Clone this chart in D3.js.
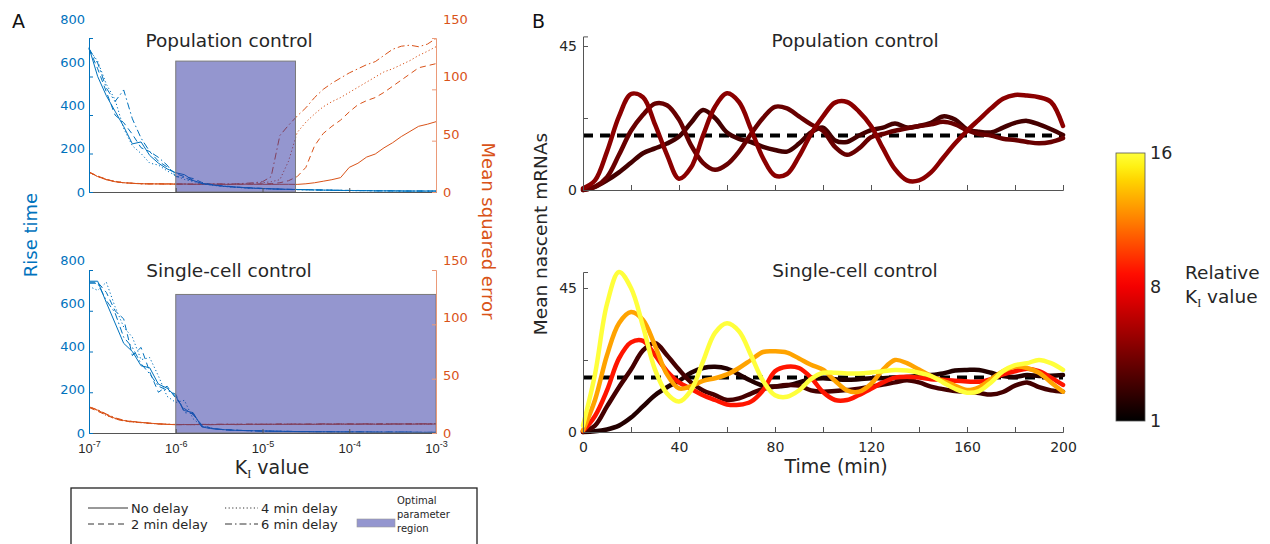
<!DOCTYPE html>
<html>
<head>
<meta charset="utf-8">
<script src="https://cdn.jsdelivr.net/npm/d3@7"></script>
<style>
  body { margin: 0; background: #fff; }
  svg { font-family: "DejaVu Sans", Verdana, sans-serif; }
</style>
</head>
<body>
<svg width="1270" height="544"></svg>
<script>
// ---------- panel A data: log10(K_I) grid, rise time and mean squared error ----------
const logK = [-7.0, -6.9, -6.8, -6.7, -6.6, -6.5, -6.4, -6.3, -6.2, -6.1,
              -6.0, -5.9, -5.8, -5.7, -5.6, -5.5, -5.4, -5.3, -5.2, -5.1,
              -5.0, -4.9, -4.8, -4.7, -4.6, -4.5, -4.4, -4.3, -4.2, -4.1,
              -4.0, -3.9, -3.8, -3.7, -3.6, -3.5, -3.4, -3.3, -3.2, -3.1, -3.0];
const xTicks = [1e-7, 1e-6, 1e-5, 1e-4, 1e-3];
const xTickExp = [-7, -6, -5, -4, -3];
const delayNames = ["No delay", "2 min delay", "4 min delay", "6 min delay"];

// population control
const popRise = [
  [750, 600, 500, 420, 340, 250, 260, 190, 150, 120, 100, 90, 60, 45, 38, 32, 28, 25, 22, 20, 18, 16, 15, 14, 13, 12, 11, 10, 9, 8, 8, 7, 7, 6, 6, 6, 5, 5, 5, 5, 5],
  [745, 640, 520, 400, 360, 300, 230, 210, 160, 130, 95, 80, 70, 50, 40, 34, 30, 26, 23, 21, 19, 17, 15, 14, 13, 12, 11, 10, 10, 9, 8, 8, 7, 7, 6, 6, 6, 5, 5, 5, 5],
  [740, 680, 560, 480, 330, 240, 200, 150, 140, 110, 85, 65, 55, 42, 36, 31, 27, 24, 21, 19, 17, 16, 14, 13, 12, 11, 10, 9, 9, 8, 7, 7, 7, 6, 6, 5, 5, 5, 5, 4, 4],
  [745, 670, 540, 470, 530, 380, 280, 210, 180, 140, 80, 75, 58, 44, 37, 33, 29, 25, 22, 20, 18, 16, 15, 13, 12, 12, 11, 10, 9, 9, 8, 7, 7, 6, 6, 6, 5, 5, 5, 5, 5]
];
const popMse = [
  [19.5, 15, 12, 10, 9, 8.5, 8, 8, 7.8, 8, 7.6, 7.8, 7.5, 7.7, 7.5, 7.6, 7.4, 7.5, 7.6, 7.5, 7.5, 7.4, 7.5, 7.5, 7.4, 8, 9, 10.5, 12, 14, 24, 28, 34, 37, 43, 48, 54, 59, 64, 66, 68.5],
  [19, 15.5, 12.5, 10, 9, 8.6, 8.2, 8, 8, 7.8, 7.8, 7.6, 7.7, 7.5, 7.6, 7.8, 7.5, 7.6, 7.7, 7.8, 8, 8.2, 9, 11, 15, 24, 45, 57, 64, 70, 78, 85, 89, 92, 97, 103, 109, 115, 121, 123, 125],
  [19, 15, 12, 10.5, 9.2, 8.4, 8.1, 7.9, 8, 7.7, 7.7, 7.8, 7.6, 7.6, 7.7, 7.9, 7.6, 7.8, 8, 8.5, 9, 10, 12, 30, 58, 68, 76, 83, 88, 92, 97, 102, 107, 112, 117, 120, 124, 128, 133, 137, 141.5],
  [19.5, 15.5, 12.2, 10.2, 9, 8.4, 8, 7.8, 7.9, 7.6, 7.8, 7.7, 7.5, 7.6, 7.8, 7.6, 7.7, 8, 8.5, 9, 10, 15, 55, 65, 74, 82, 92, 100, 106, 111, 116, 120, 124, 127, 133, 139, 142, 143, 141.5, 144, 149.5]
];
// single-cell control
const scRise = [
  [745, 745, 640, 540, 440, 400, 330, 320, 240, 220, 180, 110, 100, 30, 22, 18, 15, 13, 12, 11, 10, 9, 8, 8, 7, 7, 6, 6, 6, 5, 5, 5, 5, 4, 4, 4, 4, 4, 3, 3, 3],
  [740, 740, 690, 600, 560, 380, 420, 300, 200, 230, 170, 120, 90, 40, 25, 19, 16, 14, 12, 11, 10, 9, 9, 8, 7, 7, 6, 6, 6, 5, 5, 5, 5, 4, 4, 4, 4, 4, 3, 3, 3],
  [720, 700, 740, 620, 520, 470, 360, 370, 280, 180, 150, 160, 70, 35, 24, 18, 15, 13, 12, 11, 10, 9, 8, 8, 7, 7, 6, 6, 5, 5, 5, 5, 4, 4, 4, 4, 4, 3, 3, 3, 3],
  [735, 735, 650, 590, 470, 420, 340, 290, 230, 210, 190, 100, 95, 32, 23, 18, 15, 13, 12, 10, 9, 9, 8, 7, 7, 6, 6, 6, 5, 5, 5, 5, 4, 4, 4, 4, 4, 4, 3, 3, 3]
];
const scMse = [
  [24, 21, 17, 13.5, 11.5, 10.5, 9.8, 9, 8.5, 8, 7.6, 7.8, 7.7, 7.9, 7.6, 7.8, 8, 7.7, 7.9, 8, 7.8, 8.1, 7.9, 8, 8.2, 7.9, 8, 8.3, 8, 8.1, 8.2, 8, 8.3, 8.1, 8, 8.2, 8.4, 8.1, 8.2, 8.3, 8.2],
  [23.5, 20, 16.5, 13, 11, 10.2, 9.5, 8.8, 8.3, 7.9, 7.8, 7.6, 7.9, 7.7, 7.8, 8.1, 7.8, 8, 8.2, 7.9, 8.1, 8, 8.3, 8.1, 7.9, 8.2, 8.3, 8, 8.2, 8.4, 8.1, 8.3, 8.2, 8, 8.4, 8.2, 8.1, 8.3, 8.5, 8.2, 8.4],
  [24.5, 20.5, 16, 13.2, 11.2, 10, 9.6, 8.9, 8.2, 8.1, 7.7, 7.9, 7.6, 7.8, 8, 7.7, 7.9, 8.1, 7.8, 8.2, 8, 7.9, 8.1, 8.3, 8, 8.1, 7.9, 8.2, 8.3, 8.1, 8, 8.3, 8.4, 8.2, 8.1, 8.3, 8.2, 8.4, 8.3, 8.2, 8.5],
  [24, 21.5, 17.5, 14, 11.8, 10.6, 9.7, 9.1, 8.4, 8, 7.9, 7.7, 7.8, 8, 7.8, 7.9, 8.2, 7.9, 8, 8.1, 8.2, 8, 8.2, 8, 8.3, 8.2, 8.1, 8.4, 8.2, 8.3, 8.5, 8.2, 8.4, 8.3, 8.6, 8.4, 8.3, 8.5, 8.4, 8.6, 8.7]
];
const popRegion = [1e-6, 2.4e-5];
const scRegion = [1e-6, 1e-3];
const regionHeight = 680;      // in rise-time units
const riseTicks = [0, 200, 400, 600, 800];
const mseTicks = [0, 50, 100, 150];

// ---------- panel B data: mean nascent mRNAs vs time ----------
const timeMin = [0, 5, 10, 15, 20, 25, 30, 35, 40, 45, 50, 55, 60, 65, 70, 75, 80, 85, 90, 95, 100,
                 105, 110, 115, 120, 125, 130, 135, 140, 145, 150, 155, 160, 165, 170, 175, 180, 185, 190, 195, 200];
const setpoint = 17;
const popK = [3, 4, 5];
const popCurves = [
  [0, 1, 3, 5.5, 8.5, 11.5, 13, 14.5, 16.7, 21, 25, 22.5, 18, 16, 15, 13.5, 12.5, 12, 14.5, 18, 19.5, 15.5, 15, 17, 18.7, 19.5, 20.8, 19.5, 20, 21, 23, 22, 19, 18.2, 18, 19.5, 21, 21.6, 20.5, 19, 17.2],
  [0, 1, 4, 11, 18.5, 23.5, 27, 26.5, 22, 14, 8.5, 6.3, 8, 12, 17.5, 22.5, 26, 25.5, 23, 20.5, 18.5, 13.5, 11, 13, 16.5, 17.5, 18.5, 19.3, 20, 20.5, 21.3, 20.5, 18.7, 17.5, 17, 16, 15.6, 15, 14.6, 15, 16.2],
  [0.5, 3, 12, 23, 30, 29, 20.5, 11, 3.5, 7, 17, 26, 30.2, 27.5, 19, 10, 4.5, 5, 10.5, 17.5, 23, 27.3, 27.5, 24.5, 20, 13, 6.5, 3, 3, 5.5, 10, 14.5, 18.5, 22, 25.5, 28.5, 29.7, 29.5, 29, 27.5, 20]
];
const scK = [2, 3, 9, 13, 16];
const scCurves = [
  [0, 0.2, 0.8, 2, 4.5, 8, 11.5, 14, 16, 18.5, 20, 20.4, 19.8, 18, 16, 14.5, 14.2, 14.5, 15.5, 16.5, 16.8, 16.5, 16.3, 16.5, 16.8, 16.8, 17, 17.2, 17.5, 17.8, 18.3, 19.2, 19.4, 19.4, 18.5, 17.5, 17.2, 17.8, 17.5, 17.6, 17.8],
  [0, 2, 8, 14, 19.5, 25.5, 27.8, 24, 19.5, 15.5, 13, 11.5, 10, 10.5, 12, 13.5, 14.2, 14.7, 14.5, 13, 12.6, 12.8, 13.1, 13.5, 14.2, 14.8, 15.5, 16.2, 15.5, 14.2, 13.4, 12.8, 12.6, 12.2, 11.7, 12.5, 14.5, 15.5, 14, 13, 12.6],
  [0.3, 5, 13, 23, 28, 28.5, 24, 19, 15.5, 13.5, 11.5, 10, 8.6, 8.5, 9.5, 13, 19, 20.4, 20, 17, 12.5, 10, 10, 11.6, 13.5, 15.5, 17, 17.3, 17, 16.5, 16.3, 16, 15.8, 15.7, 16.5, 18, 19, 19.8, 19, 17, 14.7],
  [0.5, 10, 24, 34, 37.5, 35, 27, 18, 13.6, 14.3, 16, 16.8, 18, 20, 22.5, 25, 25.2, 24.8, 23, 21, 19.5, 16, 13, 12.6, 15, 19.5, 22.5, 21.5, 19.5, 17.5, 16, 14.5, 13.1, 14, 16.5, 19, 20.4, 20, 18.5, 15.5, 12.6],
  [2, 18, 40, 50, 45, 33, 19.5, 12, 9.5, 13, 22, 31, 34, 31.5, 24, 16, 11.5, 11, 13, 16.5, 18.5, 18.5, 18.3, 18.3, 18.6, 19, 19.4, 19.2, 18.5, 17.5, 15.5, 13.5, 12.3, 12.8, 15.5, 19, 20.9, 21.5, 22.5, 21.5, 19.4]
];
const colorbarTicks = [1, 8, 16];

// ---------- drawing ----------
const svg = d3.select("svg");
svg.append("rect").attr("width", 1270).attr("height", 544).attr("fill", "#fff");

const blue = "#0072BD", orange = "#D95319", grey = "#555", textCol = "#262626";
const dashes = [null, "6,4", "1.2,2.4", "7,3,1.5,3"];

function drawPanelA(o) {
    const x = d3.scaleLog().domain([1e-7, 1e-3]).range([89, 436]);
    const yR = d3.scaleLinear().domain([0, 800]).range([o.bottom, o.top]);
    const yRLab = d3.scaleLinear().domain([0, 800]).range([o.bottom, o.labTop]);
    const yM = d3.scaleLinear().domain([0, 150]).range([o.bottom, o.top]);
    const yMLab = d3.scaleLinear().domain([0, 150]).range([o.bottom, o.labTop]);
    const g = svg.append("g");

    const lineM = d3.line().x((d, i) => x(Math.pow(10, logK[i]))).y(d => yM(d));
    const lineR = d3.line().x((d, i) => x(Math.pow(10, logK[i]))).y(d => yR(d));

    o.mse.forEach((s, k) => {
        g.append("path").attr("d", lineM(s)).attr("fill", "none")
            .attr("stroke", orange).attr("stroke-width", 1)
            .attr("stroke-dasharray", dashes[k]);
    });
    o.rise.forEach((s, k) => {
        g.append("path").attr("d", lineR(s)).attr("fill", "none")
            .attr("stroke", blue).attr("stroke-width", 1)
            .attr("stroke-dasharray", dashes[k]);
    });

    // optimal parameter region
    g.append("rect")
        .attr("x", x(o.region[0])).attr("width", x(o.region[1]) - x(o.region[0]))
        .attr("y", yR(regionHeight)).attr("height", yR(0) - yR(regionHeight))
        .attr("fill", "#2a2ea0").attr("fill-opacity", 0.5)
        .attr("stroke", "#7a7a7a").attr("stroke-width", 1);

    // x axis
    const gx = g.append("g").attr("transform", `translate(0,${o.bottom})`)
        .call(d3.axisBottom(x).tickValues(xTicks).tickSize(-4).tickFormat(""));
    gx.select(".domain").attr("stroke", grey);
    gx.selectAll(".tick line").attr("stroke", grey);
    if (o.xLabels) {
        gx.selectAll(".tick").append("text")
            .attr("y", 20).attr("text-anchor", "middle").attr("fill", textCol)
            .attr("font-size", 13)
            .each(function(d, i) {
                const t = d3.select(this);
                t.append("tspan").text("10");
                t.append("tspan").attr("dy", -6).attr("font-size", 9).text("-" + (-xTickExp[i]));
            });
    }

    // left axis (rise time)
    const gl = g.append("g").attr("transform", "translate(89,0)")
        .call(d3.axisLeft(yR).tickValues(riseTicks).tickSize(-4).tickFormat(""));
    gl.selectAll(".domain, .tick line").attr("stroke", blue);
    const gll = g.append("g").attr("transform", "translate(89,0)")
        .call(d3.axisLeft(yRLab).tickValues(riseTicks).tickSize(0).tickPadding(4));
    gll.select(".domain").remove();
    gll.selectAll("text").attr("fill", blue).attr("font-size", 13)
        .attr("font-family", "DejaVu Sans");

    // right axis (mse)
    const gr = g.append("g").attr("transform", "translate(436,0)")
        .call(d3.axisRight(yM).tickValues(mseTicks).tickSize(-4).tickFormat(""));
    gr.selectAll(".domain, .tick line").attr("stroke", "#eb9a78");
    const grl = g.append("g").attr("transform", "translate(436,0)")
        .call(d3.axisRight(yMLab).tickValues(mseTicks).tickSize(0).tickPadding(7));
    grl.select(".domain").remove();
    grl.selectAll("text").attr("fill", orange).attr("font-size", 13)
        .attr("font-family", "DejaVu Sans");

    g.append("text").attr("x", 229).attr("y", o.titleY).attr("text-anchor", "middle")
        .attr("font-size", 18.5).attr("fill", textCol).text(o.title);
}

drawPanelA({top: 38, bottom: 192, labTop: 19, rise: popRise, mse: popMse,
            region: popRegion, title: "Population control", titleY: 47, xLabels: false});
drawPanelA({top: 270, bottom: 433, labTop: 260, rise: scRise, mse: scMse,
            region: scRegion, title: "Single-cell control", titleY: 277, xLabels: true});

// axis titles, panel A
svg.append("text").attr("transform", "translate(37,235) rotate(-90)")
    .attr("text-anchor", "middle").attr("font-size", 18).attr("fill", blue).text("Rise time");
svg.append("text").attr("transform", "translate(482,231) rotate(90)")
    .attr("text-anchor", "middle").attr("font-size", 18).attr("fill", orange).text("Mean squared error");
const kLab = svg.append("text").attr("x", 272).attr("y", 474).attr("text-anchor", "middle")
    .attr("font-size", 19).attr("fill", textCol);
kLab.append("tspan").text("K");
kLab.append("tspan").attr("dy", 4).attr("font-size", 12).attr("font-family", "Liberation Serif").text("I");
kLab.append("tspan").attr("dy", -4).text(" value");

// legend
const lg = svg.append("g");
lg.append("rect").attr("x", 71).attr("y", 488).attr("width", 406).attr("height", 70)
    .attr("fill", "none").attr("stroke", "#222").attr("stroke-width", 1.3);
const legPos = [[88, 508], [88, 524], [225, 508], [225, 524]];
delayNames.forEach((name, k) => {
    const [lx, ly] = legPos[k];
    const w = k < 2 ? 40 : 33;
    lg.append("line").attr("x1", lx).attr("x2", lx + w).attr("y1", ly).attr("y2", ly)
        .attr("stroke", "#333").attr("stroke-width", 1).attr("stroke-dasharray", dashes[k]);
    lg.append("text").attr("x", lx + w + 3).attr("y", ly + 4.5).attr("font-size", 13)
        .attr("fill", textCol).text(name);
});
lg.append("rect").attr("x", 357).attr("y", 519).attr("width", 38).attr("height", 8)
    .attr("fill", "#2a2ea0").attr("fill-opacity", 0.5).attr("stroke", "#999").attr("stroke-width", 0.6);
["Optimal", "parameter", "region"].forEach((t, i) => {
    lg.append("text").attr("x", 397).attr("y", 504 + i * 14).attr("font-size", 10)
        .attr("fill", textCol).text(t);
});

// panel labels
svg.append("text").attr("x", 12).attr("y", 28).attr("font-size", 19).attr("fill", "#111").text("A");
svg.append("text").attr("x", 532).attr("y", 28).attr("font-size", 19).attr("fill", "#111").text("B");

// ---------- panel B ----------
const cb = d3.scaleLinear().domain([1, 8, 16]).range([421, 287, 153]);
function kFrac(k) { return (cb(1) - cb(k)) / (cb(1) - cb(16)); }
function hotColor(f) {
    const t = f * 0.8;
    const r = Math.min(1, t / 0.42);
    const gg = Math.max(0, Math.min(1, (t - 0.42) / 0.36));
    const b = Math.max(0, Math.min(1, (t - 0.74) / 0.26));
    return d3.rgb(r * 255, gg * 255, b * 255).formatHex();
}

const xB = d3.scaleLinear().domain([0, 200]).range([583, 1063]);

function drawPanelB(o) {
    const y = d3.scaleLinear().domain([0, o.yMax]).range([o.bottom, o.bottom - o.yMax * 3.2]);
    const g = svg.append("g");

    g.append("line").attr("x1", xB(0)).attr("x2", xB(200))
        .attr("y1", y(setpoint)).attr("y2", y(setpoint))
        .attr("stroke", "#000").attr("stroke-width", 4).attr("stroke-dasharray", "10,7");

    const line = d3.line().x((d, i) => xB(timeMin[i])).y(d => y(d)).curve(d3.curveCatmullRom);
    o.curves.forEach((s, k) => {
        g.append("path").attr("d", line(s)).attr("fill", "none")
            .attr("stroke", hotColor(kFrac(o.k[k]))).attr("stroke-width", 4.5)
            .attr("stroke-linejoin", "round").attr("stroke-linecap", "round");
    });

    const gx = g.append("g").attr("transform", `translate(0,${o.bottom})`)
        .call(d3.axisBottom(xB).tickValues(d3.range(0, 201, 20)).tickSize(-5).tickPadding(10)
            .tickFormat(d => (o.xLabels && d % 40 === 0) ? d : ""));
    gx.selectAll(".domain, .tick line").attr("stroke", grey);
    gx.selectAll("text").attr("font-size", 14).attr("fill", textCol).attr("font-family", "DejaVu Sans");

    const gy = g.append("g").attr("transform", `translate(${xB(0)},0)`)
        .call(d3.axisLeft(y).tickValues([0, 22.5, 45]).tickSize(-5).tickPadding(6)
            .tickFormat(d => d === 22.5 ? "" : d));
    gy.selectAll(".domain, .tick line").attr("stroke", grey);
    gy.selectAll("text").attr("font-size", 14).attr("fill", textCol).attr("font-family", "DejaVu Sans");

    g.append("text").attr("x", 855).attr("y", o.titleY).attr("text-anchor", "middle")
        .attr("font-size", 18.5).attr("fill", textCol).text(o.title);
}

drawPanelB({bottom: 190, yMax: 48, curves: popCurves, k: popK,
            title: "Population control", titleY: 47, xLabels: false});
drawPanelB({bottom: 432, yMax: 50, curves: scCurves, k: scK,
            title: "Single-cell control", titleY: 277, xLabels: true});

svg.append("text").attr("transform", "translate(547,234) rotate(-90)")
    .attr("text-anchor", "middle").attr("font-size", 18.5).attr("fill", textCol).text("Mean nascent mRNAs");
svg.append("text").attr("x", 836).attr("y", 473).attr("text-anchor", "middle")
    .attr("font-size", 19).attr("fill", textCol).text("Time (min)");

// colour bar
const grad = svg.append("defs").append("linearGradient").attr("id", "hotbar")
    .attr("x1", 0).attr("x2", 0).attr("y1", 1).attr("y2", 0);
d3.range(0, 1.0001, 0.05).forEach(f => {
    grad.append("stop").attr("offset", f).attr("stop-color", hotColor(f));
});
svg.append("rect").attr("x", 1116).attr("y", cb(16)).attr("width", 29).attr("height", cb(1) - cb(16))
    .attr("fill", "url(#hotbar)").attr("stroke", "#555").attr("stroke-width", 0.8);
colorbarTicks.forEach(k => {
    svg.append("text").attr("x", 1150).attr("y", cb(k)).attr("dy", "0.35em")
        .attr("font-size", 17.5).attr("fill", textCol).text(k);
});
svg.append("text").attr("x", 1185).attr("y", 279).attr("font-size", 18.5).attr("fill", textCol).text("Relative");
const kv = svg.append("text").attr("x", 1185).attr("y", 303).attr("font-size", 18.5).attr("fill", textCol);
kv.append("tspan").text("K");
kv.append("tspan").attr("dy", 4).attr("font-size", 12).attr("font-family", "Liberation Serif").text("I");
kv.append("tspan").attr("dy", -4).text(" value");
</script>
</body>
</html>
